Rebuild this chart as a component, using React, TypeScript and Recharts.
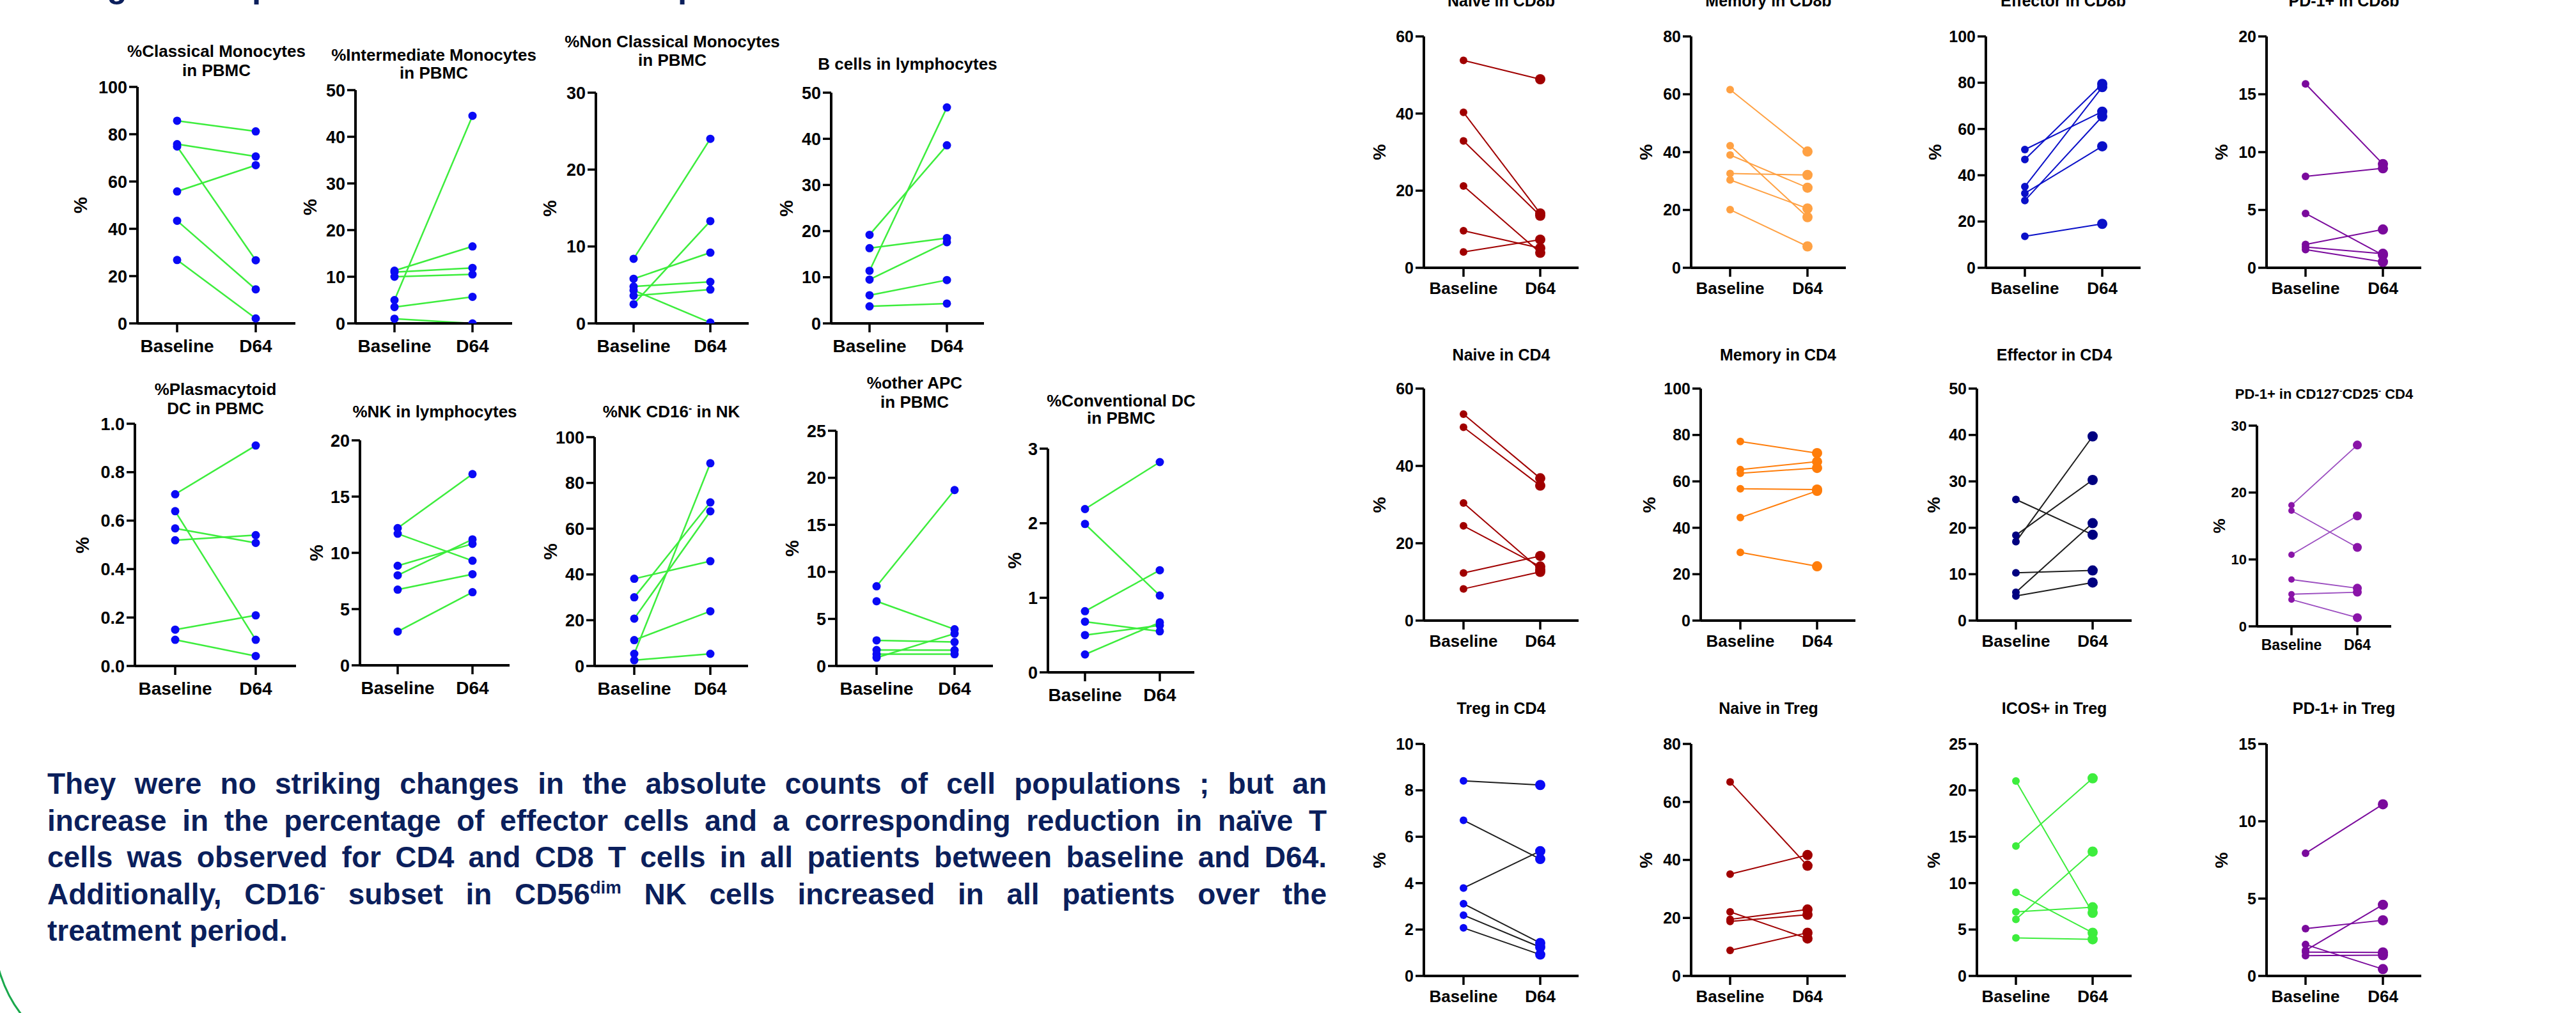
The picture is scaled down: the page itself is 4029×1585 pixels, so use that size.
import React from 'react';
import { LineChart, Line, XAxis, YAxis } from 'recharts';

// ---------- categories ----------
const CATEGORIES = ['Baseline', 'D64'];

// ---------- left block (monocytes, DC, NK, B) ----------
const classicalBase = [85.7, 75.8, 74.8, 55.8, 43.4, 26.8];
const classicalD64 = [81.2, 70.6, 26.7, 66.9, 14.4, 2.1];
const intermediateBase = [11.3, 11.0, 10.0, 5.0, 3.5, 1.0];
const intermediateD64 = [16.5, 11.9, 10.5, 44.5, 5.7, 0];
const nonClassicalBase = [8.4, 5.8, 4.8, 3.6, 2.5, 4.3];
const nonClassicalD64 = [24.0, 9.2, 5.4, 4.4, 13.3, 0.1];
const bCellsBase = [19.2, 11.4, 16.3, 9.5, 6.1, 3.7];
const bCellsD64 = [38.6, 46.8, 18.5, 17.6, 9.4, 4.3];
const pdcBase = [0.709, 0.639, 0.568, 0.519, 0.15, 0.108];
const pdcD64 = [0.91, 0.108, 0.508, 0.54, 0.209, 0.041];
const nkBase = [12.2, 11.7, 8.85, 8.0, 6.73, 3.0];
const nkD64 = [17.0, 9.3, 10.8, 11.2, 8.1, 6.5];
const nkCd16Base = [38.1, 30.0, 20.7, 11.3, 5.3, 2.5];
const nkCd16D64 = [45.8, 71.5, 67.6, 23.9, 88.6, 5.3];
const otherApcBase = [8.47, 6.88, 2.72, 1.7, 1.25, 0.88];
const otherApcD64 = [18.7, 3.9, 2.54, 1.68, 1.25, 3.44];
const cdcBase = [2.19, 1.99, 0.82, 0.68, 0.5, 0.24];
const cdcD64 = [2.82, 1.03, 1.37, 0.55, 0.63, 0.67];

// ---------- right block (T cells) ----------
const naiveCd8Base = [53.8, 40.3, 32.9, 21.2, 9.6, 4.1];
const naiveCd8D64 = [48.9, 14.1, 13.5, 3.9, 5.1, 7.3];
const memoryCd8Base = [61.6, 42.2, 39.0, 32.6, 30.4, 20.1];
const memoryCd8D64 = [40.2, 17.5, 27.7, 32.1, 20.5, 7.4];
const effectorCd8Base = [51.1, 46.8, 35.1, 32.2, 29.1, 13.6];
const effectorCd8D64 = [67.5, 79.5, 78.1, 52.5, 65.4, 19.0];
const pd1Cd8Base = [15.9, 7.9, 4.7, 2.02, 1.8, 1.58];
const pd1Cd8D64 = [8.97, 8.6, 1.1, 3.31, 1.21, 0.51];
const naiveCd4Base = [53.4, 50.0, 30.4, 24.5, 12.3, 8.2];
const naiveCd4D64 = [36.8, 34.9, 13.2, 14.0, 16.7, 12.6];
const memoryCd4Base = [77.2, 65.1, 63.5, 56.8, 44.4, 29.4];
const memoryCd4D64 = [72.2, 68.5, 65.8, 56.5, 55.9, 23.4];
const effectorCd4Base = [26.1, 18.4, 17.0, 10.3, 6.1, 5.3];
const effectorCd4D64 = [18.5, 30.3, 39.7, 10.8, 21.0, 8.2];
const pd1Cd127Base = [18.1, 17.3, 10.7, 7.0, 4.8, 4.0];
const pd1Cd127D64 = [27.1, 11.8, 16.5, 5.7, 5.1, 1.3];
const tregCd4Base = [8.41, 6.71, 3.79, 3.11, 2.62, 2.07];
const tregCd4D64 = [8.23, 5.04, 5.38, 1.42, 1.24, 0.92];
const naiveTregBase = [66.9, 35.1, 22.1, 19.5, 18.8, 8.8];
const naiveTregD64 = [38.0, 41.7, 12.9, 22.9, 21.1, 14.9];
const icosTregBase = [21.0, 14.0, 9.0, 6.9, 6.1, 4.1];
const icosTregD64 = [6.8, 21.3, 4.65, 7.4, 13.4, 3.95];
const pd1TregBase = [7.93, 3.06, 2.03, 1.65, 1.54, 1.31];
const pd1TregD64 = [11.1, 3.6, 0.44, 4.6, 1.52, 1.34];

// ---------- tick labels ----------
const ticks100 = [0, 20, 40, 60, 80, 100];
const ticks80 = [0, 20, 40, 60, 80];
const ticks60 = [0, 20, 40, 60];
const ticks50 = [0, 10, 20, 30, 40, 50];
const ticks30 = [0, 10, 20, 30];
const ticks25 = [0, 5, 10, 15, 20, 25];
const ticks20 = [0, 5, 10, 15, 20];
const ticks15 = [0, 5, 10, 15];
const ticks10 = [0, 2, 4, 6, 8, 10];
const ticks3 = [0, 1, 2, 3];
const ticks1 = [0, 0.2, 0.4, 0.6, 0.8, 1.0];

const FONT = '"Liberation Sans", Arial, Helvetica, sans-serif';
const NAVY = '#0b1f5c';

const LEFT = { tick: 27, xl: 28, title: 26, pct: 29, rb: 6.5, rd: 6.5, lw: 2.5, xm: 11 };
const RIGHT = { tick: 25, xl: 26, title: 25, pct: 28, rb: 6, rd: 8, lw: 2, xm: 9 };
const SMALL = { tick: 22, xl: 23, title: 22, pct: 26, rb: 5, rd: 7, lw: 1.8, xm: 7 };

const LIME = '#3ded3d';
const BLUE = '#0a0af5';
const DARKRED = '#a00000';
const PURPLE = '#7a0a9c';

const panels = [
  // left row 1
  { id: 'classical', base: classicalBase, d64: classicalD64, x0: 215, x1: 462, yTop: 136, yBot: 506, bx: 277, dx: 400, max: 100, ticks: ticks100, title: ['%Classical Monocytes', 'in PBMC'], tb: [89, 119], pctX: 126, line: LIME, dot: BLUE, st: LEFT },
  { id: 'intermediate', base: intermediateBase, d64: intermediateD64, x0: 556, x1: 801, yTop: 141, yBot: 506, bx: 617, dx: 739, max: 50, ticks: ticks50, title: ['%Intermediate Monocytes', 'in PBMC'], tb: [95, 123], pctX: 485, line: LIME, dot: BLUE, st: LEFT },
  { id: 'nonclassical', base: nonClassicalBase, d64: nonClassicalD64, x0: 932, x1: 1171, yTop: 145, yBot: 506, bx: 991, dx: 1111, max: 30, ticks: ticks30, title: ['%Non Classical Monocytes', 'in PBMC'], tb: [74, 103], pctX: 860, line: LIME, dot: BLUE, st: LEFT },
  { id: 'bcells', base: bCellsBase, d64: bCellsD64, x0: 1300, x1: 1539, yTop: 145, yBot: 506, bx: 1360, dx: 1481, max: 50, ticks: ticks50, title: ['B cells in lymphocytes'], tb: [109], pctX: 1230, line: LIME, dot: BLUE, st: LEFT },
  // left row 2
  { id: 'pdc', base: pdcBase, d64: pdcD64, x0: 211, x1: 463, yTop: 663, yBot: 1042, bx: 274, dx: 400, max: 1, ticks: ticks1, dec: 1, title: ['%Plasmacytoid', 'DC in PBMC'], tb: [618, 648], pctX: 129, line: LIME, dot: BLUE, st: LEFT },
  { id: 'nk', base: nkBase, d64: nkD64, x0: 563, x1: 797, yTop: 689, yBot: 1041, bx: 622, dx: 739, max: 20, ticks: ticks20, title: ['%NK in lymphocytes'], tb: [653], pctX: 495, line: LIME, dot: BLUE, st: LEFT },
  { id: 'nkcd16', base: nkCd16Base, d64: nkCd16D64, x0: 930, x1: 1170, yTop: 684, yBot: 1042, bx: 992, dx: 1111, max: 100, ticks: ticks100, title: [['%NK CD16', '-', ' in NK']], tb: [653], pctX: 861, line: LIME, dot: BLUE, st: LEFT },
  { id: 'otherapc', base: otherApcBase, d64: otherApcD64, x0: 1308, x1: 1553, yTop: 674, yBot: 1042, bx: 1371, dx: 1493, max: 25, ticks: ticks25, title: ['%other APC', 'in PBMC'], tb: [608, 638], pctX: 1239, line: LIME, dot: BLUE, st: LEFT },
  { id: 'cdc', base: cdcBase, d64: cdcD64, x0: 1639, x1: 1868, yTop: 702, yBot: 1052, bx: 1697, dx: 1814, max: 3, ticks: ticks3, title: ['%Conventional DC', 'in PBMC'], tb: [636, 663], pctX: 1587, line: LIME, dot: BLUE, st: LEFT },
  // right row 1
  { id: 'naivecd8', base: naiveCd8Base, d64: naiveCd8D64, x0: 2227, x1: 2469, yTop: 57, yBot: 419, bx: 2289, dx: 2409, max: 60, ticks: ticks60, title: ['Naive in CD8b'], tb: [10], pctX: 2158, line: DARKRED, dot: DARKRED, st: RIGHT },
  { id: 'memcd8', base: memoryCd8Base, d64: memoryCd8D64, x0: 2645, x1: 2887, yTop: 57, yBot: 419, bx: 2706, dx: 2827, max: 80, ticks: ticks80, title: ['Memory in CD8b'], tb: [10], pctX: 2575, line: '#ffa143', dot: '#ffa143', st: RIGHT },
  { id: 'effcd8', base: effectorCd8Base, d64: effectorCd8D64, x0: 3106, x1: 3348, yTop: 57, yBot: 419, bx: 3167, dx: 3288, max: 100, ticks: ticks100, title: ['Effector in CD8b'], tb: [10], pctX: 3027, line: '#0a10c8', dot: '#0a10c8', st: RIGHT },
  { id: 'pd1cd8', base: pd1Cd8Base, d64: pd1Cd8D64, x0: 3545, x1: 3787, yTop: 57, yBot: 419, bx: 3606, dx: 3727, max: 20, ticks: ticks20, title: ['PD-1+ in CD8b'], tb: [10], pctX: 3475, line: PURPLE, dot: PURPLE, st: RIGHT },
  // right row 2
  { id: 'naivecd4', base: naiveCd4Base, d64: naiveCd4D64, x0: 2227, x1: 2469, yTop: 608, yBot: 971, bx: 2289, dx: 2409, max: 60, ticks: ticks60, title: ['Naive in CD4'], tb: [564], pctX: 2158, line: DARKRED, dot: DARKRED, st: RIGHT },
  { id: 'memcd4', base: memoryCd4Base, d64: memoryCd4D64, x0: 2660, x1: 2902, yTop: 608, yBot: 971, bx: 2722, dx: 2842, max: 100, ticks: ticks100, title: ['Memory in CD4'], tb: [564], pctX: 2580, line: '#ff7d0a', dot: '#ff7d0a', st: RIGHT },
  { id: 'effcd4', base: effectorCd4Base, d64: effectorCd4D64, x0: 3092, x1: 3334, yTop: 608, yBot: 971, bx: 3153, dx: 3273, max: 50, ticks: ticks50, title: ['Effector in CD4'], tb: [564], pctX: 3025, line: '#1e1e1e', dot: '#000080', st: RIGHT },
  { id: 'pd1cd127', base: pd1Cd127Base, d64: pd1Cd127D64, x0: 3530, x1: 3740, yTop: 666, yBot: 980, bx: 3584, dx: 3687, max: 30, ticks: ticks30, title: [['PD-1+ in CD127', '-', 'CD25', '-', ' CD4']], tb: [625], pctX: 3471, line: '#9b4dc0', dot: '#8a14a8', st: SMALL },
  // right row 3
  { id: 'tregcd4', base: tregCd4Base, d64: tregCd4D64, x0: 2227, x1: 2469, yTop: 1164, yBot: 1527, bx: 2289, dx: 2409, max: 10, ticks: ticks10, title: ['Treg in CD4'], tb: [1117], pctX: 2158, line: '#1e1e1e', dot: BLUE, st: RIGHT },
  { id: 'naivetreg', base: naiveTregBase, d64: naiveTregD64, x0: 2645, x1: 2887, yTop: 1164, yBot: 1527, bx: 2706, dx: 2827, max: 80, ticks: ticks80, title: ['Naive in Treg'], tb: [1117], pctX: 2575, line: DARKRED, dot: DARKRED, st: RIGHT },
  { id: 'icostreg', base: icosTregBase, d64: icosTregD64, x0: 3092, x1: 3334, yTop: 1164, yBot: 1527, bx: 3153, dx: 3273, max: 25, ticks: ticks25, title: ['ICOS+ in Treg'], tb: [1117], pctX: 3025, line: LIME, dot: LIME, st: RIGHT },
  { id: 'pd1treg', base: pd1TregBase, d64: pd1TregD64, x0: 3545, x1: 3787, yTop: 1164, yBot: 1527, bx: 3606, dx: 3727, max: 15, ticks: ticks15, title: ['PD-1+ in Treg'], tb: [1117], pctX: 3475, line: PURPLE, dot: PURPLE, st: RIGHT },
];

const bodyLines = [
  ['They were no striking changes in the absolute counts of cell populations ; but an'],
  ['increase in the percentage of  effector cells and a corresponding reduction in naïve T'],
  ['cells was observed for CD4 and CD8 T cells in all patients between baseline and D64.'],
  ['Additionally, CD16', '-', ' subset in CD56', 'dim', ' NK cells increased in all patients over the'],
  ['treatment period.'],
];

function renderParts(parts: any) {
  if (typeof parts === 'string') return parts;
  return parts.map((p: string, i: number) =>
    i % 2 === 1 ? (
      <sup key={i} style={{ fontSize: '0.6em', verticalAlign: '0.6em', lineHeight: 0 }}>{p}</sup>
    ) : (
      <React.Fragment key={i}>{p}</React.Fragment>
    )
  );
}

function Panel({ cfg }: { cfg: any }) {
  const st = cfg.st;
  const ML = 130;
  const MT = 24;
  const MR = 24;
  const XH = 90;
  const plotW = cfg.x1 - cfg.x0;
  const plotH = cfg.yBot - cfg.yTop;
  const W = ML + plotW + MR;
  const H = MT + plotH + XH;
  const keys = cfg.base.map((_: number, i: number) => `p${i}`);
  const data = CATEGORIES.map((c, ci) => {
    const row: any = { x: c };
    keys.forEach((k: string, i: number) => {
      row[k] = ci === 0 ? cfg.base[i] : cfg.d64[i];
    });
    return row;
  });
  const renderDot = (props: any) => {
    const { cx, cy, index, dataKey } = props;
    if (cx == null || cy == null) return <g key={`${dataKey}-${index}`} />;
    return (
      <circle
        key={`${dataKey}-${index}`}
        cx={cx}
        cy={cy}
        r={index === 0 ? st.rb : st.rd}
        fill={cfg.dot}
        stroke="none"
      />
    );
  };
  const tickStyle = { fill: '#000', fontSize: st.tick, fontWeight: 700, fontFamily: FONT };
  const xTickStyle = { fill: '#000', fontSize: st.xl, fontWeight: 700, fontFamily: FONT };
  const cy = (cfg.yTop + cfg.yBot) / 2;
  const cxTitle = (cfg.x0 + cfg.x1) / 2;
  return (
    <>
      <div style={{ position: 'absolute', left: cfg.x0 - ML, top: cfg.yTop - MT }}>
        <LineChart width={W} height={H} data={data} margin={{ top: MT, right: MR, bottom: 0, left: 0 }}>
          <XAxis
            dataKey="x"
            type="category"
            padding={{ left: cfg.bx - cfg.x0, right: cfg.x1 - cfg.dx }}
            height={XH}
            interval={0}
            tickSize={14}
            tickMargin={st.xm}
            axisLine={{ stroke: '#000', strokeWidth: 4 }}
            tickLine={{ stroke: '#000', strokeWidth: 3.5 }}
            tick={xTickStyle}
          />
          <YAxis
            type="number"
            domain={[0, cfg.max]}
            ticks={cfg.ticks}
            interval={0}
            width={ML}
            tickSize={13}
            tickMargin={3}
            allowDataOverflow
            axisLine={{ stroke: '#000', strokeWidth: 4 }}
            tickLine={{ stroke: '#000', strokeWidth: 3.5 }}
            tick={tickStyle}
            tickFormatter={(v: number) => (cfg.dec ? v.toFixed(cfg.dec) : String(v))}
          />
          {keys.map((k: string) => (
            <Line
              key={`l-${k}`}
              dataKey={k}
              stroke={cfg.line}
              strokeWidth={st.lw}
              dot={false}
              activeDot={false}
              isAnimationActive={false}
            />
          ))}
          {keys.map((k: string) => (
            <Line
              key={`d-${k}`}
              dataKey={k}
              stroke="none"
              strokeWidth={0}
              dot={renderDot}
              activeDot={false}
              isAnimationActive={false}
            />
          ))}
        </LineChart>
      </div>
      {cfg.title.map((t: any, i: number) => (
        <div
          key={`t${i}`}
          style={{
            position: 'absolute',
            left: cxTitle - 400,
            width: 800,
            top: cfg.tb[i] - 0.8465 * st.title,
            fontSize: st.title,
            lineHeight: `${st.title}px`,
            fontWeight: 700,
            fontFamily: FONT,
            color: '#000',
            textAlign: 'center',
            whiteSpace: 'pre',
          }}
        >
          {renderParts(t)}
        </div>
      ))}
      <div
        style={{
          position: 'absolute',
          left: cfg.pctX,
          top: cy,
          transform: 'translate(-50%, -50%) rotate(-90deg)',
          fontSize: st.pct,
          lineHeight: 1,
          fontWeight: 700,
          fontFamily: FONT,
          color: '#000',
        }}
      >
        %
      </div>
    </>
  );
}

export default function App() {
  const bodyFont = 46;
  const bodyLH = 57.5;
  return (
    <div
      style={{
        position: 'relative',
        width: 4029,
        height: 1585,
        overflow: 'hidden',
        background: '#fff',
        fontFamily: FONT,
      }}
    >
      <style>{`html,body{margin:0;padding:0;background:#fff;}`}</style>
      <div
        style={{
          position: 'absolute',
          left: 74,
          top: -47,
          fontSize: 51,
          lineHeight: '51px',
          fontWeight: 700,
          color: NAVY,
          whiteSpace: 'nowrap',
        }}
      >
        Longitudinal profile of the main immune parameters
      </div>
      {panels.map((p) => (
        <Panel key={p.id} cfg={p} />
      ))}
      <div
        style={{
          position: 'absolute',
          left: 74,
          top: 1243 - bodyLH / 2 - 0.3465 * bodyFont,
          width: 2001,
          fontSize: bodyFont,
          lineHeight: `${bodyLH}px`,
          fontWeight: 700,
          color: NAVY,
        }}
      >
        {bodyLines.map((ln, i) => (
          <div
            key={i}
            style={{
              textAlign: i < bodyLines.length - 1 ? 'justify' : 'left',
              textAlignLast: i < bodyLines.length - 1 ? 'justify' : 'left',
              whiteSpace: 'nowrap',
            }}
          >
            {renderParts(ln)}
          </div>
        ))}
      </div>
      <svg style={{ position: 'absolute', left: 0, top: 1480 }} width={80} height={105}>
        <path d="M -2 36 Q 10 78 34 108" stroke="#1aa84c" strokeWidth={3} fill="none" />
      </svg>
    </div>
  );
}
